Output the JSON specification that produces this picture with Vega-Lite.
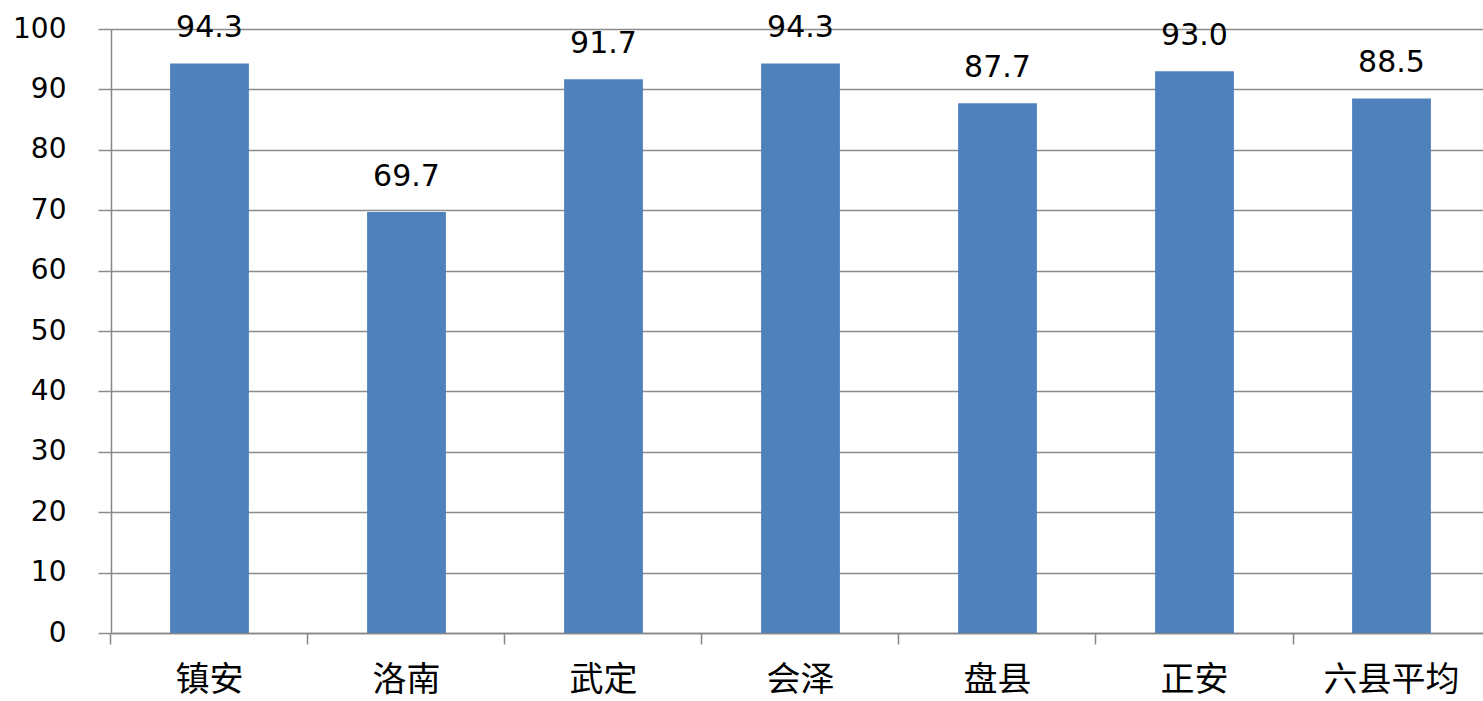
{
  "$schema": "https://vega.github.io/schema/vega-lite/v6.json",
  "width": 1379,
  "height": 604,
  "padding": {"left": 12, "top": 13, "right": 0, "bottom": 0},
  "background": "white",
  "config": {"view": {"stroke": null}},
  "data": {"values": [
    {"county": "镇安", "value": 94.3},
    {"county": "洛南", "value": 69.7},
    {"county": "武定", "value": 91.7},
    {"county": "会泽", "value": 94.3},
    {"county": "盘县", "value": 87.7},
    {"county": "正安", "value": 93.0},
    {"county": "六县平均", "value": 88.5}
  ]},
  "layer": [
    {
      "mark": {"type": "bar", "color": "#4F81BD"},
      "encoding": {
        "x": {"field": "county", "type": "nominal", "sort": null,
          "scale": {"paddingInner": 0.6, "paddingOuter": 0.3},
          "axis": {"title": null, "orient": "bottom", "labelAngle": 0, "ticks": false, "domain": true, "domainColor": "#868686", "domainWidth": 1.5,
            "labelFont": "Noto Sans CJK SC", "labelFontSize": 34, "labelColor": "#000", "labelPadding": 30, "labelBaseline": "top"}},
        "y": {"field": "value", "type": "quantitative",
          "scale": {"domain": [0, 100], "nice": false},
          "axis": {"title": null, "values": [0,10,20,30,40,50,60,70,80,90,100], "grid": true, "gridColor": "#8c8c8c", "gridWidth": 1.5,
            "tickColor": "#8c8c8c", "tickSize": 13, "tickWidth": 1.5, "domainColor": "#868686", "domainWidth": 1.5,
            "labelFont": "DejaVu Sans", "labelFontSize": 28, "labelColor": "#000", "labelPadding": 32}}
      }
    },
    {
      "mark": {"type": "text", "font": "DejaVu Sans", "fontSize": 30, "color": "#000", "baseline": "alphabetic", "dy": -26},
      "encoding": {
        "x": {"field": "county", "type": "nominal", "sort": null, "axis": null},
        "y": {"field": "value", "type": "quantitative"},
        "text": {"field": "value", "type": "quantitative", "format": ".1f"}
      }
    },
    {
      "mark": {"type": "tick", "opacity": 0},
      "encoding": {
        "x": {"field": "county", "type": "nominal", "sort": null,
          "axis": {"title": null, "orient": "bottom", "labels": false, "domain": false, "ticks": true, "bandPosition": -0.75, "tickSize": 11, "tickColor": "#868686", "tickWidth": 1.5}},
        "y": {"field": "value", "type": "quantitative"}
      }
    }
  ],
  "resolve": {"axis": {"x": "independent"}}
}
